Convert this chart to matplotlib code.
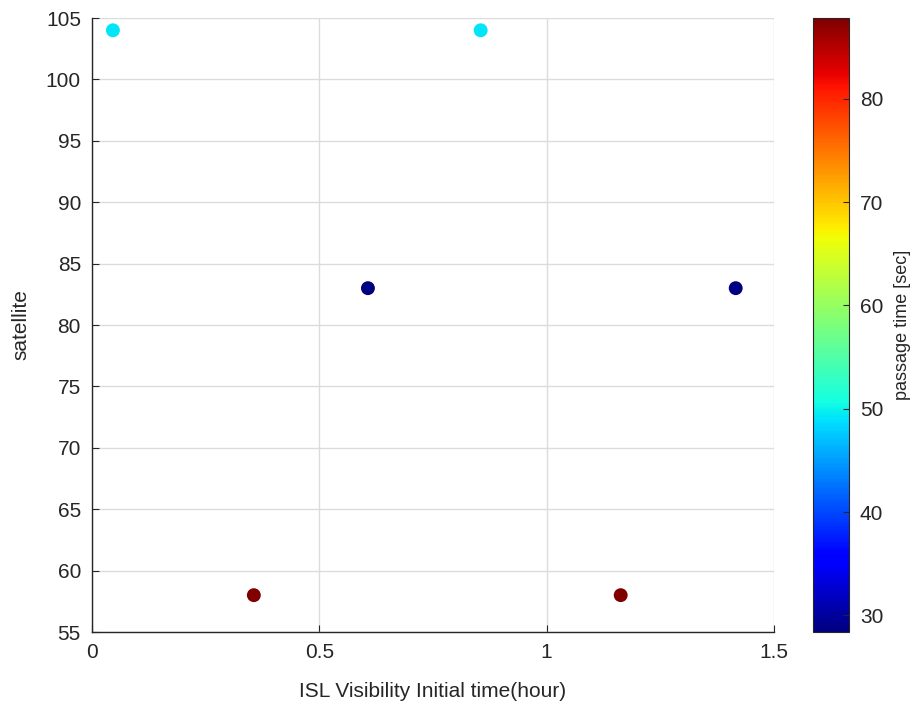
import matplotlib
matplotlib.use("Agg")
import matplotlib.pyplot as plt
import numpy as np

# ISL visibility start times (hour), satellite ids and passage times (sec)
start_hours = [0.046, 0.855, 0.356, 1.163, 0.607, 1.416]
satellites = [104, 104, 58, 58, 83, 83]
passage_sec = [49.2, 49.2, 87.8, 87.8, 28.4, 28.4]

x_ticks = [0, 0.5, 1, 1.5]
x_tick_labels = ["0", "0.5", "1", "1.5"]
y_ticks = list(range(55, 106, 5))
cbar_ticks = [30, 40, 50, 60, 70, 80]

plt.rcParams["font.family"] = ["Liberation Sans", "DejaVu Sans"]

fig = plt.figure(figsize=(9.19, 7.09), dpi=100)
ax = fig.add_axes([0.1001, 0.1086, 0.742, 0.866])
cax = fig.add_axes([0.8847, 0.1086, 0.039, 0.866])

sc = ax.scatter(start_hours, satellites, c=passage_sec, cmap="jet",
                vmin=min(passage_sec), vmax=max(passage_sec), s=100,
                zorder=3, linewidths=0)

ax.set_xlim(0, 1.5)
ax.set_ylim(55, 105)
ax.set_xticks(x_ticks)
ax.set_xticklabels(x_tick_labels)
ax.set_yticks(y_ticks)
ax.grid(True, color="#dcdcdc", linewidth=1.0)
ax.set_axisbelow(True)
for side in ("top", "right"):
    ax.spines[side].set_visible(False)
for side in ("left", "bottom"):
    ax.spines[side].set_color("#262626")
    ax.spines[side].set_linewidth(1.0)
ax.tick_params(direction="in", length=5, labelsize=15, colors="#262626",
               pad=8)
ax.set_xlabel("ISL Visibility Initial time(hour)", fontsize=15,
              color="#262626", labelpad=14)
ax.set_ylabel("satellite", fontsize=15, color="#262626", labelpad=11)

cb = fig.colorbar(sc, cax=cax)
cb.set_ticks(cbar_ticks)
cb.outline.set_edgecolor("#262626")
cb.ax.tick_params(direction="in", length=4, labelsize=15, colors="#262626",
                  pad=8)
cb.set_label("passage time [sec]", fontsize=13, color="#262626", labelpad=8)

fig.savefig("out.png", dpi=100)
